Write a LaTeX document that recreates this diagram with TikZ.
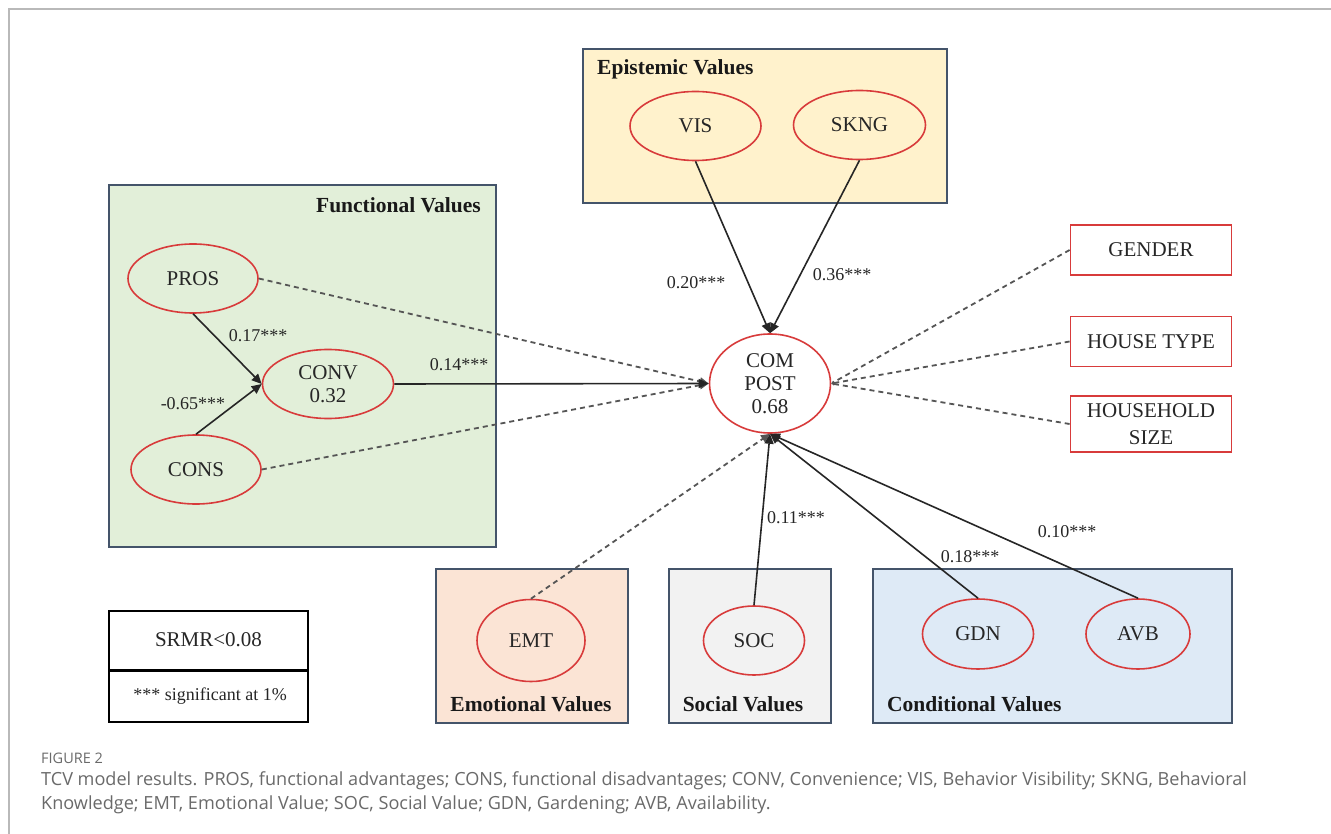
\documentclass[tikz,border=0pt]{standalone}
\usepackage{fontspec}
\setmainfont{Liberation Serif}
\newfontfamily\capfont{Open Sans}
\usetikzlibrary{shapes.geometric,arrows.meta}
\definecolor{grpborder}{HTML}{44546A}
\definecolor{ellred}{HTML}{D83B3B}
\definecolor{fvfill}{HTML}{E2EFD9}
\definecolor{epfill}{HTML}{FFF2CC}
\definecolor{emfill}{HTML}{FBE4D5}
\definecolor{sofill}{HTML}{F2F2F2}
\definecolor{cofill}{HTML}{DEEAF6}
\definecolor{dashgray}{HTML}{555555}
\definecolor{capgray}{HTML}{6A6A6A}
\tikzset{
  grp/.style={draw=grpborder, line width=1.6pt, rectangle, inner sep=0pt},
  lat/.style={draw=ellred, line width=1.6pt, ellipse, inner sep=0pt, align=center,
     font=\fontsize{21}{23}\selectfont, text=black!85},
  demo/.style={draw=ellred, line width=1.8pt, rectangle, inner sep=0pt, align=center,
     minimum width=161pt, font=\fontsize{21}{26}\selectfont, text=black!85},
  ttl/.style={font=\fontsize{21.5}{24}\selectfont\bfseries, text=black!90, inner sep=0pt},
  coef/.style={font=\fontsize{18}{20}\selectfont, text=black!85, inner sep=0pt},
  solidarrow/.style={draw=black!85, line width=1.6pt, -{Triangle[length=10pt,width=9pt]}},
  dasharrow/.style={draw=dashgray, line width=1.8pt, dash pattern=on 5pt off 4pt, -{Triangle[length=9pt,width=8pt]}},
  dashtiny/.style={draw=dashgray, line width=1.8pt, dash pattern=on 5pt off 4pt, -{Triangle[length=3pt,width=3pt]}},
}
\begin{document}
\begin{tikzpicture}[x=1pt,y=-1pt]
\useasboundingbox (0,0) rectangle (1331,834);
\fill[white] (0,0) rectangle (1331,834);
\draw[gray!55, line width=1.2pt] (9,834) -- (9,9) -- (1331,9);

% group boxes
\node[grp, fill=fvfill, minimum width=387pt, minimum height=362pt] (fvbox) at (302.5,366) {};
\node[grp, fill=epfill, minimum width=364pt, minimum height=154pt] (epbox) at (765,126) {};
\node[grp, fill=emfill, minimum width=192pt, minimum height=154pt] (embox) at (532,646) {};
\node[grp, fill=sofill, minimum width=162pt, minimum height=154pt] (sobox) at (750,646) {};
\node[grp, fill=cofill, minimum width=359pt, minimum height=154pt] (cobox) at (1052.5,646) {};

\node[ttl, anchor=east] (fvt) at (481,205) {Functional Values};
\node[ttl, anchor=west] (ept) at (597,69) {Epistemic Values};
\node[ttl] (emt_t) at (531,704) {Emotional Values};
\node[ttl] (sot) at (743,704) {Social Values};
\node[ttl, anchor=west] (cot) at (887,704) {Conditional Values};

% latent variables
\node[lat, minimum width=130pt, minimum height=69pt] (pros) at (193,278.5) {PROS};
\node[lat, minimum width=131pt, minimum height=69pt] (conv) at (328,384) {CONV\\0.32};
\node[lat, minimum width=130pt, minimum height=69pt] (cons) at (196,469.5) {CONS};
\node[lat, minimum width=131pt, minimum height=69pt] (vis) at (695.5,126) {VIS};
\node[lat, minimum width=132pt, minimum height=69pt] (skng) at (859.5,125) {SKNG};
\node[lat, minimum width=121pt, minimum height=99pt] (cp) at (770,383.5) {COM\\POST\\0.68};
\node[lat, minimum width=108pt, minimum height=82pt] (emt) at (531,640.5) {EMT};
\node[lat, minimum width=101pt, minimum height=69pt] (soc) at (754,640.5) {SOC};
\node[lat, minimum width=111pt, minimum height=70pt] (gdn) at (978,634) {GDN};
\node[lat, minimum width=104pt, minimum height=70pt] (avb) at (1138,634) {AVB};

% demographic boxes
\node[demo, minimum height=50pt] (gender) at (1151,250) {GENDER};
\node[demo, minimum height=50pt] (house) at (1151,341.5) {HOUSE TYPE};
\node[demo, minimum height=56pt, font=\fontsize{21}{27}\selectfont] (hsize) at (1151,424) {HOUSEHOLD\\SIZE};

% fit box
\node[draw=black, line width=1.5pt, rectangle, minimum width=199pt, minimum height=111pt, inner sep=0pt] (fit) at (208.5,666.5) {};
\draw[black, line width=3pt] (fit.west |- 0,670.5) -- (fit.east |- 0,670.5);
\node[font=\fontsize{21}{24}\selectfont, text=black!85] (srmr) at (208.5,640) {SRMR<0.08};
\node[coef] (sig) at (210,696) {*** significant at 1\%};

% connectors
\draw[dasharrow] (pros.east) -- (cp.west);
\draw[dasharrow] (cons.east) -- (cp.west);
\draw[solidarrow] (pros.south) -- (conv.west);
\draw[solidarrow] (cons.north) -- (conv.west);
\draw[solidarrow] (conv.east) -- (cp.west);
\draw[solidarrow] (vis.south) -- (cp.north);
\draw[solidarrow] (skng.south) -- (cp.north);
\draw[dashtiny] (gender.west) -- (cp.east);
\draw[dashtiny] (house.west) -- (cp.east);
\draw[dashtiny] (hsize.west) -- (cp.east);
\draw[dasharrow] (emt.north) -- (cp.south);
\draw[solidarrow] (soc.north) -- (cp.south);
\draw[solidarrow] (gdn.north) -- (cp.south);
\draw[solidarrow] (avb.north) -- (cp.south);

% coefficients
\node[coef] (c1) at (258,336) {0.17***};
\node[coef] (c2) at (193,404) {-0.65***};
\node[coef] (c3) at (459,365) {0.14***};
\node[coef] (c4) at (696,283) {0.20***};
\node[coef] (c5) at (842,275) {0.36***};
\node[coef] (c6) at (796,518) {0.11***};
\node[coef] (c7) at (970,557) {0.18***};
\node[coef] (c8) at (1067,532) {0.10***};

% caption
\node[anchor=west, inner sep=0pt, text=capgray, font=\capfont\fontsize{14.5}{16}\selectfont] (fig) at (41,758) {FIGURE 2};
\node[anchor=north west, inner sep=0pt, text=capgray, align=left, font=\capfont\fontsize{18.1}{24}\selectfont] (cap) at (41,771) {TCV model results. PROS, functional advantages; CONS, functional disadvantages; CONV, Convenience; VIS, Behavior Visibility; SKNG, Behavioral\\Knowledge; EMT, Emotional Value; SOC, Social Value; GDN, Gardening; AVB, Availability.};
\end{tikzpicture}
\end{document}
